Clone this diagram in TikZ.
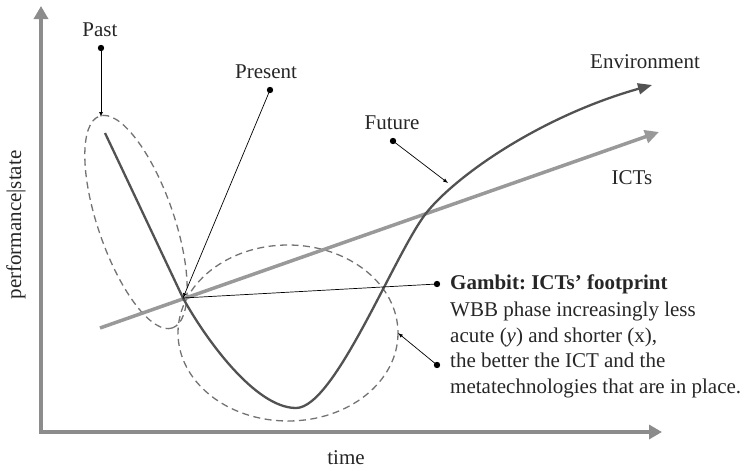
\documentclass[tikz,border=0pt]{standalone}
\usepackage{fontspec}
\setmainfont{Liberation Serif}
\usetikzlibrary{arrows.meta}
\tikzset{>=latex}
\tikzset{
  lbl/.style={font=\fontsize{21}{25.5}\selectfont, text=black!85, inner sep=0pt},
  axis/.style={line width=4pt, draw=black!45, {Triangle[width=14pt,length=13pt]}-{Triangle[width=14pt,length=13pt]}},
  ring/.style={draw=black!55, dashed, dash pattern=on 7pt off 4.5pt, line width=1.3pt},
  pin/.style={black, line width=0.7pt},
  dot/.style={fill=black, radius=3.2},
}

\begin{document}
\begin{tikzpicture}[x=1pt, y=-1pt]
    \useasboundingbox (0,0) rectangle (748,471);
    % axes
    \draw[axis](41,6)--(41,432)--(662,432);
    \node[lbl, rotate=90](ylab) at (16,225){performance|state};
    \node[lbl](xlab) at (346,458){time};
    % phases
    \draw[ring](136,222) ellipse [x radius=112, y radius=38, rotate=-71];
    \draw[ring](288,333) ellipse [x radius=110, y radius=88];
    % ICTs and environment
    \draw[line width=3.5pt, black!40, -{Triangle[width=13pt,length=14pt]}](100,328)--(659,132);
    \draw[line width=2.3pt, black!68, -{Triangle[width=11pt,length=14pt]}](105,133)
        .. controls (125,175) and (165,260) .. (183,298)
        .. controls (205,338) and (255,408) .. (296,408)
        .. controls (335,408) and (395,252) .. (427,212)
        .. controls (460,172) and (545,115) .. (652,85);
    \node[lbl](env) at (645,62){Environment};
    \node[lbl](icts) at (632,178){ICTs};
    % labels with pins
    \node[lbl](past) at (100,30){Past};
    \node[lbl](present) at (266,72){Present};
    \node[lbl](future) at (392,123){Future};
    \coordinate(pastdot) at (101,48);
    \coordinate(presdot) at (270,90);
    \coordinate(futdot) at (393,141);
    \coordinate(gambitdot) at (437,284);
    \coordinate(wbbdot) at (437,365);
    \coordinate(pasttip) at (101,117);
    \coordinate(nexus) at (183,298);
    \coordinate(futtip) at (448,183);
    \coordinate(ringtip) at (398,333);
    \draw[pin, ->](pastdot)--(pasttip);
    \draw[pin, ->](presdot)--(nexus);
    \draw[pin, ->](futdot)--(futtip);
    \draw[pin](nexus)--(gambitdot);
    \draw[pin, ->](wbbdot)--(ringtip);
    \foreach \d in {pastdot, presdot, futdot, gambitdot, wbbdot}
        \fill[dot](\d) circle;
    \node[lbl, anchor=west, font=\fontsize{21}{25.5}\selectfont\bfseries](gambit) at (450,284){Gambit:\ ICTs’ footprint};
    \node[lbl, anchor=north west, align=left](wbb) at (450,302){WBB phase increasingly less\\acute (\textit{y}) and shorter (x),\\the better the ICT and the\\metatechnologies that are in place.};
\end{tikzpicture}
\end{document}
